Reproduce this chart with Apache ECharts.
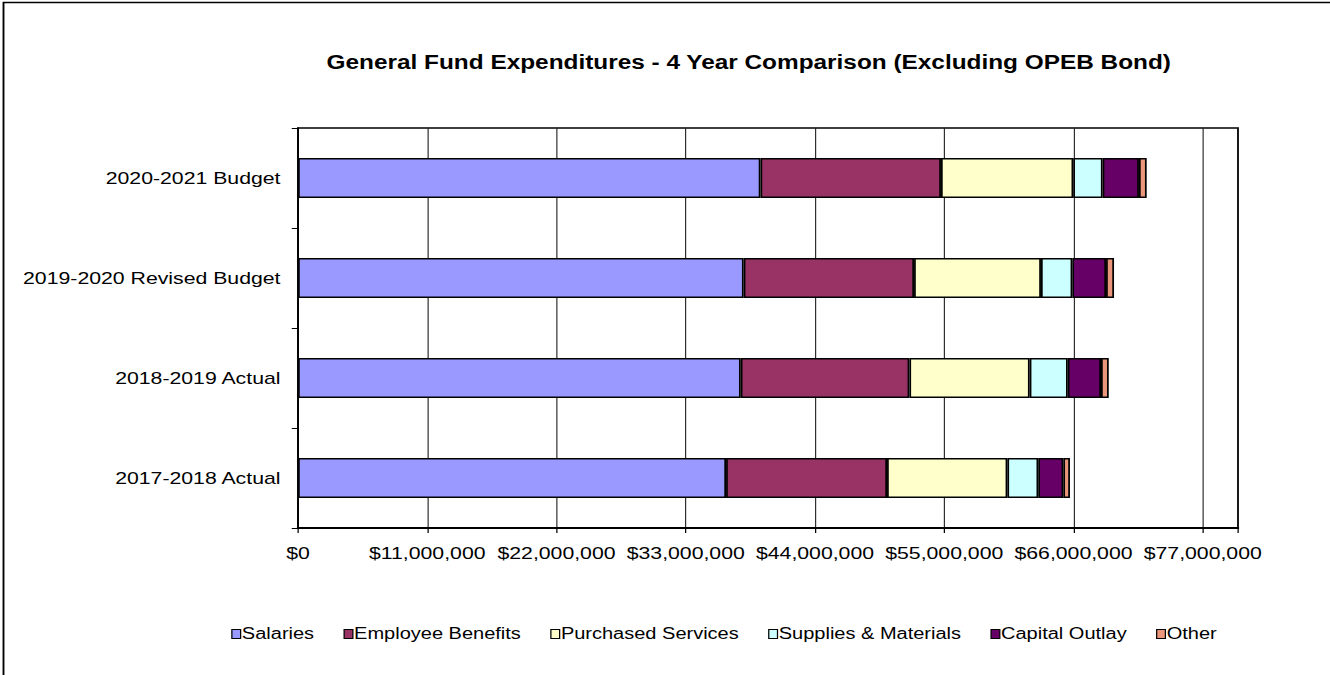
<!DOCTYPE html>
<html>
<head>
<meta charset="utf-8">
<script src="https://cdn.jsdelivr.net/npm/echarts@6/dist/echarts.min.js"></script>
<style>
	html, body { margin: 0; padding: 0; background: #fff; overflow: hidden; }
	/* the reference is a wide stretch of the original chart, so we draw narrow and stretch it the same way */
	#chart { width: 1064px; height: 675px; transform: scaleX(1.25); transform-origin: 0 0; }
</style>
</head>
<body>
<div id="chart"></div>
<script>
// bottom to top, as the category axis draws them
const years = ['2017-2018 Actual', '2018-2019 Actual', '2019-2020 Revised Budget', '2020-2021 Budget'];

const salaries = [36430000, 37680000, 37930000, 39360000];
const employeeBenefits = [13700000, 14350000, 14500000, 15360000];
const purchasedServices = [10240000, 10240000, 10800000, 11260000];
const suppliesMaterials = [2630000, 3240000, 2670000, 2500000];
const capitalOutlay = [2130000, 2830000, 2870000, 3090000];
const other = [570000, 660000, 680000, 660000];

const seriesNames = ['Salaries', 'Employee Benefits', 'Purchased Services', 'Supplies & Materials', 'Capital Outlay', 'Other'];
const seriesColors = ['#9999FF', '#993366', '#FFFFCC', '#CCFFFF', '#660066', '#E9967A'];
const seriesValues = [salaries, employeeBenefits, purchasedServices, suppliesMaterials, capitalOutlay, other];

const xMax = 80000000;
const xStep = 11000000;

const font = 'Liberation Sans, Arial, sans-serif';

const chart = echarts.init(document.getElementById('chart'), null, { renderer: 'svg' });

const money = (v) => (v >= xMax ? '' : '$' + v.toLocaleString('en-US'));

chart.setOption({
	backgroundColor: '#fff',
	animation: false,
	title: {
		text: 'General Fund Expenditures - 4 Year Comparison (Excluding OPEB Bond)',
		left: 594,
		textAlign: 'center',
		top: 47,
		textStyle: {
			fontFamily: font,
			fontWeight: 'bold',
			fontSize: 19.5,
			color: '#000',
		},
	},
	legend: {
		left: 180,
		top: 621,
		itemWidth: 7,
		itemHeight: 9,
		itemGap: 23.5,
		icon: 'rect',
		itemStyle: { borderColor: '#000', borderWidth: 1 },
		textStyle: { fontFamily: font, fontSize: 16, color: '#000', padding: [0, 0, 0, -4] },
		data: seriesNames,
	},
	grid: {
		left: 238.4,
		right: 73.6,
		top: 128,
		bottom: 147,
		show: true,
		borderColor: '#000',
		borderWidth: 1.5,
		containLabel: false,
	},
	xAxis: {
		type: 'value',
		min: 0,
		max: xMax,
		interval: xStep,
		axisLine: { show: true, lineStyle: { color: '#000', width: 2 } },
		axisTick: { show: true, length: 5, lineStyle: { color: '#000' } },
		axisLabel: {
			formatter: money,
			fontFamily: font,
			fontSize: 17,
			color: '#000',
			margin: 17,
		},
		splitLine: { show: true, lineStyle: { color: '#222', width: 0.9 } },
	},
	yAxis: {
		type: 'category',
		data: years,
		axisLine: { show: true, lineStyle: { color: '#000', width: 1.3 } },
		axisTick: { show: true, length: 5, lineStyle: { color: '#000' } },
		axisLabel: {
			fontFamily: font,
			fontSize: 17,
			color: '#000',
			margin: 14,
			padding: [4, 0, 0, 0],
		},
	},
	series: seriesNames.map((name, i) => ({
		name,
		type: 'bar',
		stack: 'total',
		barWidth: 40,
		itemStyle: { color: seriesColors[i], borderColor: '#000', borderWidth: 1.4 },
		data: seriesValues[i],
	})),
	graphic: [
		{
			type: 'polyline',
			shape: { points: [[2.8, 675], [2.8, 2.5], [1064, 2.5]] },
			style: { stroke: '#000', lineWidth: 1.5, fill: null },
		},
	],
});
</script>
</body>
</html>
